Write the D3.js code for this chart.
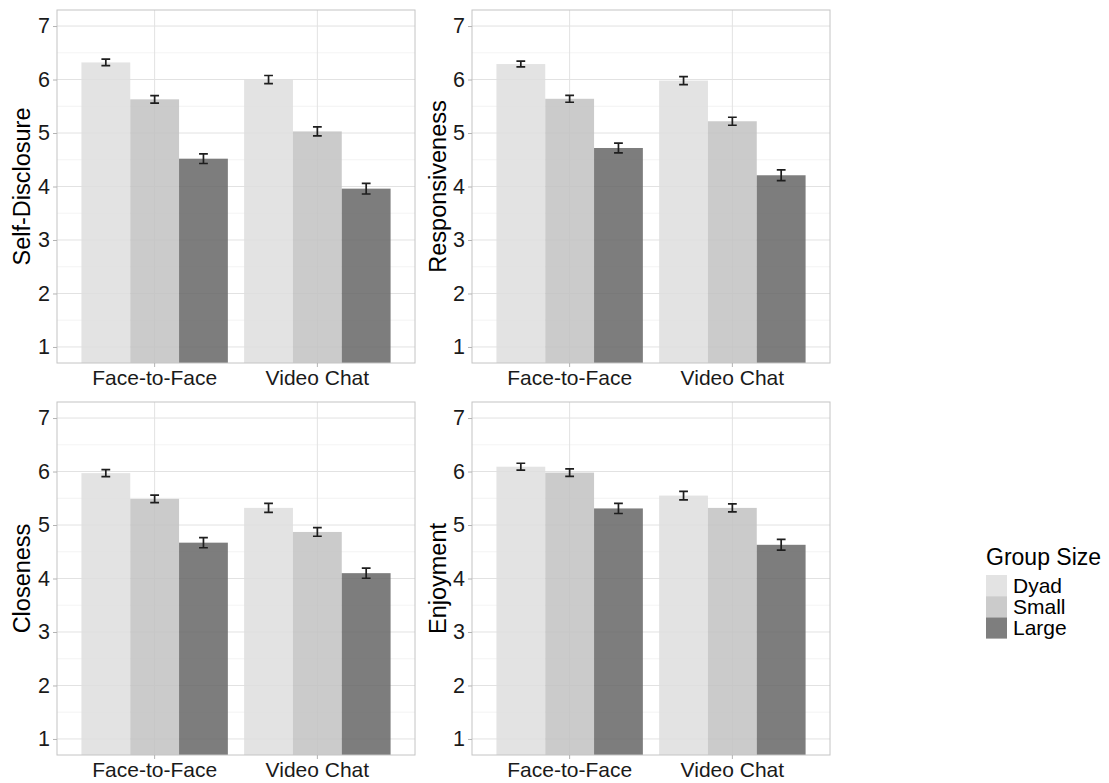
<!DOCTYPE html>
<html>
<head>
<meta charset="utf-8">
<script src="https://cdn.jsdelivr.net/npm/d3@7"></script>
<style>
  html, body { margin: 0; padding: 0; background: #fff; }
  svg { display: block; font-family: "Liberation Sans", Arial, sans-serif; }
</style>
</head>
<body>
<svg id="chart" width="1109" height="783"></svg>
<script>
const categories = ["Face-to-Face", "Video Chat"];
const groupSizes = ["Dyad", "Small", "Large"];
const measures = ["Self-Disclosure", "Responsiveness", "Closeness", "Enjoyment"];
const yTicks = [1, 2, 3, 4, 5, 6, 7];

// means: [F2F Dyad, F2F Small, F2F Large, VC Dyad, VC Small, VC Large]
const selfDisclosure = [6.32, 5.63, 4.52, 6.00, 5.03, 3.96];
const responsiveness = [6.29, 5.64, 4.72, 5.98, 5.22, 4.21];
const closeness      = [5.97, 5.49, 4.67, 5.32, 4.87, 4.10];
const enjoyment      = [6.09, 5.98, 5.31, 5.55, 5.32, 4.63];

const selfDisclosureSE = [0.06, 0.07, 0.09, 0.075, 0.085, 0.10];
const responsivenessSE = [0.055, 0.065, 0.09, 0.075, 0.075, 0.10];
const closenessSE      = [0.065, 0.07, 0.095, 0.085, 0.08, 0.095];
const enjoymentSE      = [0.065, 0.07, 0.095, 0.08, 0.075, 0.10];

const allMeans = [selfDisclosure, responsiveness, closeness, enjoyment];
const allSE = [selfDisclosureSE, responsivenessSE, closenessSE, enjoymentSE];

const fillColors = { Dyad: "#dedede", Small: "#c2c2c2", Large: "#666666" };
const keyColors = { Dyad: "#e3e3e3", Small: "#cbcbcb", Large: "#7e7e7e" };

const svg = d3.select("#chart");
const panelW = 358, panelH = 353;
const panels = [
  { x: 57, y: 10, titleX: 30 },
  { x: 472, y: 10, titleX: 446 },
  { x: 57, y: 402, titleX: 30 },
  { x: 472, y: 402, titleX: 446 }
];

const font = '"Liberation Sans", Arial, sans-serif';

panels.forEach((p, i) => {
  const g = svg.append("g").attr("transform", `translate(${p.x},${p.y})`);
  const x = d3.scaleBand().domain(categories).range([0, panelW]).paddingInner(0.1).paddingOuter(0.15);
  const xg = d3.scaleBand().domain(groupSizes).range([0, x.bandwidth()]).padding(0);
  const y = d3.scaleLinear().domain([0.7, 7.3]).range([panelH, 0]);

  g.append("clipPath").attr("id", "clip" + i)
    .append("rect").attr("width", panelW).attr("height", panelH);

  // minor gridlines
  const minor = d3.range(1.5, 7.3, 1).filter(v => v > 0.7 && v < 7.3);
  g.append("g").selectAll("line").data(minor).join("line")
    .attr("x1", 0).attr("x2", panelW)
    .attr("y1", d => y(d)).attr("y2", d => y(d))
    .attr("stroke", "#f0f0f0").attr("stroke-width", 0.8);
  // major gridlines
  g.append("g").selectAll("line").data(yTicks).join("line")
    .attr("x1", 0).attr("x2", panelW)
    .attr("y1", d => y(d)).attr("y2", d => y(d))
    .attr("stroke", "#e2e2e2").attr("stroke-width", 1);
  g.append("g").selectAll("line").data(categories).join("line")
    .attr("x1", d => x(d) + x.bandwidth() / 2).attr("x2", d => x(d) + x.bandwidth() / 2)
    .attr("y1", 0).attr("y2", panelH)
    .attr("stroke", "#e2e2e2").attr("stroke-width", 1);

  const rows = [];
  categories.forEach((c, ci) => groupSizes.forEach((s, si) => {
    const k = ci * 3 + si;
    rows.push({ cat: c, size: s, mean: allMeans[i][k], se: allSE[i][k] });
  }));

  const bars = g.append("g").attr("clip-path", `url(#clip${i})`);
  bars.selectAll("rect").data(rows).join("rect")
    .attr("x", d => x(d.cat) + xg(d.size))
    .attr("width", xg.bandwidth())
    .attr("y", d => y(d.mean))
    .attr("height", d => y(0.7) - y(d.mean))
    .attr("fill", d => fillColors[d.size])
    .attr("fill-opacity", 0.85);

  // error bars
  const eb = g.append("g").attr("stroke", "#1e1e1e").attr("stroke-width", 1.7).attr("fill", "none");
  rows.forEach(d => {
    const cx = x(d.cat) + xg(d.size) + xg.bandwidth() / 2;
    const y1 = y(d.mean + d.se), y2 = y(d.mean - d.se);
    const hw = 4.4;
    eb.append("path").attr("d", `M${cx - hw},${y1}H${cx + hw}M${cx},${y1}V${y2}M${cx - hw},${y2}H${cx + hw}`);
  });

  // border
  g.append("rect").attr("width", panelW).attr("height", panelH)
    .attr("fill", "none").attr("stroke", "#c4c4c4").attr("stroke-width", 1);

  // axes
  const yAxis = d3.axisLeft(y).tickValues(yTicks).tickSize(4).tickPadding(3).tickFormat(d3.format("d"));
  const ya = g.append("g").call(yAxis);
  ya.select(".domain").remove();
  ya.selectAll(".tick line").attr("stroke", "#b3b3b3");
  ya.selectAll(".tick text").attr("fill", "#1a1a1a").attr("font-size", 21.5).attr("font-family", font);

  const xAxis = d3.axisBottom(x).tickSize(4).tickPadding(3);
  const xa = g.append("g").attr("transform", `translate(0,${panelH})`).call(xAxis);
  xa.select(".domain").remove();
  xa.selectAll(".tick line").attr("stroke", "#b3b3b3");
  xa.selectAll(".tick text").attr("fill", "#1a1a1a").attr("font-size", 21).attr("font-family", font);

  // y title
  svg.append("text")
    .attr("transform", `translate(${p.titleX},${p.y + panelH / 2}) rotate(-90)`)
    .attr("text-anchor", "middle")
    .attr("font-size", 23.5).attr("fill", "#000")
    .text(measures[i]);
});

// legend
const leg = svg.append("g").attr("transform", "translate(986,0)");
leg.append("text").attr("x", 0).attr("y", 565).attr("font-size", 23).attr("fill", "#000").text("Group Size");
groupSizes.forEach((s, k) => {
  const ky = 575 + k * 21.2;
  leg.append("rect").attr("x", 0).attr("y", ky).attr("width", 21).attr("height", 21.2).attr("fill", keyColors[s]);
  leg.append("text").attr("x", 27).attr("y", ky + 18).attr("font-size", 21).attr("fill", "#000").text(s);
});
</script>
</body>
</html>
